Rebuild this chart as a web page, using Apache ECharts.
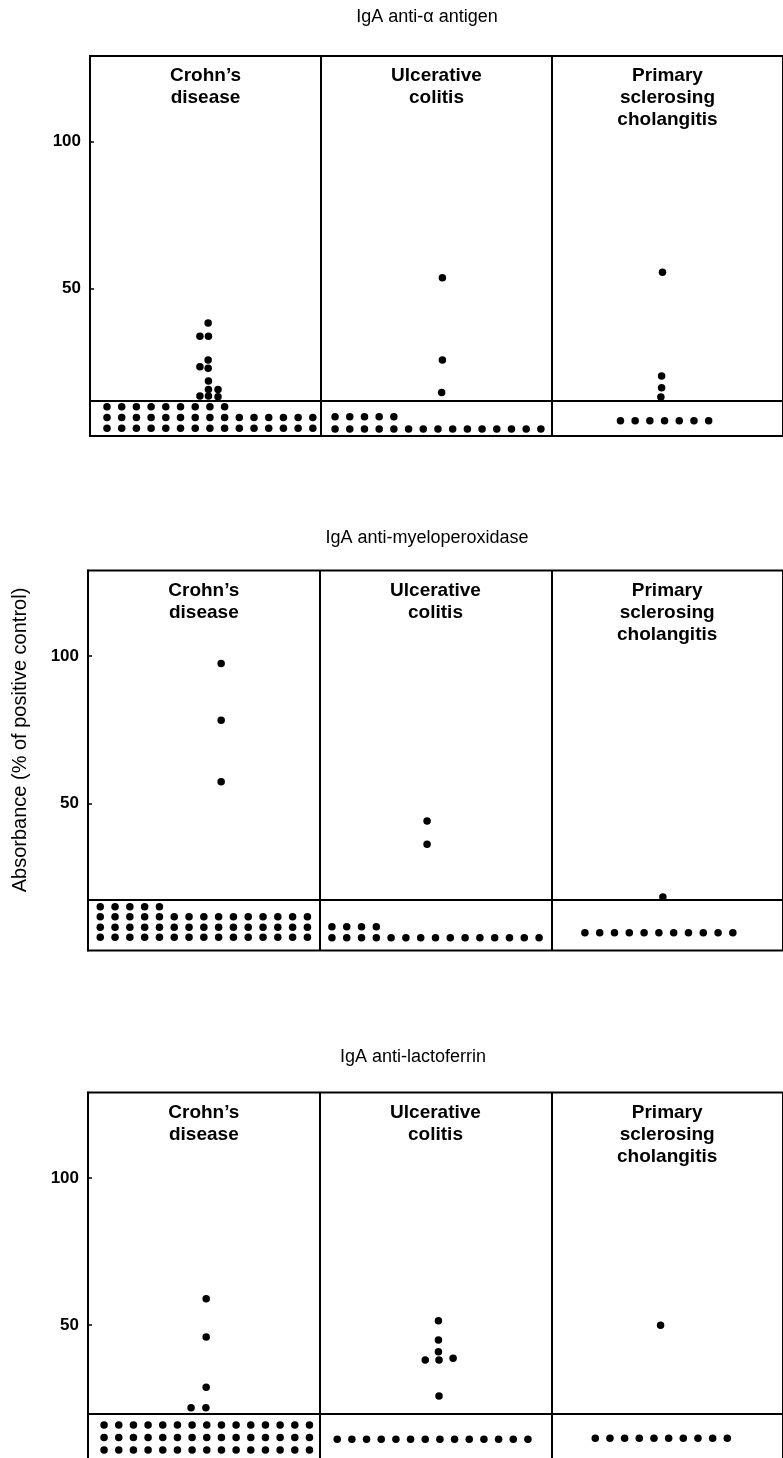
<!DOCTYPE html>
<html>
<head>
<meta charset="utf-8">
<script src="https://cdn.jsdelivr.net/npm/echarts@6/dist/echarts.min.js"></script>
<style>
html,body{margin:0;padding:0;background:#fff;overflow:hidden;width:783px;height:1458px;}
#chart{width:783px;height:1490px;}
</style>
</head>
<body>
<div id="chart"></div>
<script>
// ---------- data ----------
const groups = ['Crohn\u2019s\ndisease', 'Ulcerative\ncolitis', 'Primary\nsclerosing\ncholangitis'];
const panelTitles = ['IgA anti-\u03b1 antigen', 'IgA anti-myeloperoxidase', 'IgA anti-lactoferrin'];
const yAxisTitle = 'Absorbance (% of positive control)';
const yTickValues = [50, 100];
const cutoffs = [12.0, 17.3, 19.9];

// positive sera: [horizontal slot offset from group centre, absorbance %]
const alphaCD  = [[0.18,38.4],[-0.38,33.9],[0.2,33.9],[0.18,25.8],[-0.38,23.5],[0.18,23.0],[0.2,18.7],[0.2,15.8],[0.85,15.8],[-0.38,13.6],[0.2,13.6],[0.85,13.3]];
const alphaUC  = [[0.4,53.7],[0.4,25.8],[0.35,14.8]];
const alphaPSC = [[-0.34,55.6],[-0.4,20.4],[-0.4,16.4],[-0.45,13.2]];

const mpoCD  = [[1.17,97.5],[1.17,78.2],[1.17,57.3]];
const mpoUC  = [[-0.57,44.0],[-0.57,36.1]];
const mpoPSC = [[-0.29,18.2]];

const lfCD  = [[0.16,59.0],[0.16,46.0],[0.16,28.9],[-0.87,22.0],[0.14,22.0]];
const lfUC  = [[0.2,51.5],[0.2,45.0],[0.2,41.0],[-0.7,38.2],[0.24,38.2],[1.2,38.8],[0.24,26.0]];
const lfPSC = [[-0.45,50.0]];

// negative sera, drawn as rows below the cut-off: [row level, first slot, number of sera]
const alphaCDneg  = [[9.9,-6.7,9],[6.3,-6.7,15],[2.6,-6.7,15]];
const alphaUCneg  = [[6.5,-6.9,5],[2.4,-6.9,15]];
const alphaPSCneg = [[5.2,-3.2,7]];

const mpoCDneg  = [[14.9,-7.0,5],[11.5,-7.0,15],[7.9,-7.0,15],[4.5,-7.0,15]];
const mpoUCneg  = [[8.1,-7.0,4],[4.4,-7.0,15]];
const mpoPSCneg = [[6.1,-5.56,11]];

const lfCDneg  = [[16.1,-6.8,15],[11.9,-6.8,15],[7.6,-6.8,15]];
const lfUCneg  = [[11.3,-6.7,14]];
const lfPSCneg = [[11.6,-4.9,10]];

const panelPos = [[alphaCD, alphaUC, alphaPSC], [mpoCD, mpoUC, mpoPSC], [lfCD, lfUC, lfPSC]];
const panelNeg = [[alphaCDneg, alphaUCneg, alphaPSCneg], [mpoCDneg, mpoUCneg, mpoPSCneg], [lfCDneg, lfUCneg, lfPSCneg]];

// ---------- layout ----------
const layout = [
  {left: 90, top: 56,     width: 700,   height: 380, titleX: 422, titleY: 3},
  {left: 88, top: 570.6,  width: 697.5, height: 380, titleX: 422, titleY: 524},
  {left: 88, top: 1092.5, width: 703.5, height: 380, titleX: 408, titleY: 1043}
];
const SLOT_PX = 14.85;
const FONT = '"Liberation Sans", Arial, Helvetica, sans-serif';

const chart = echarts.init(document.getElementById('chart'), null, {renderer: 'canvas'});

const grid = [], xAxis = [], yAxis = [], series = [], title = [];
layout.forEach((L, p) => {
  grid.push({left: L.left, top: L.top, width: L.width, height: L.height, show: true,
             borderColor: '#000', borderWidth: 2, backgroundColor: 'transparent', containLabel: false});
  title.push({text: panelTitles[p], left: L.titleX, top: L.titleY, textAlign: 'center',
              textStyle: {fontFamily: FONT, fontSize: 18, fontWeight: 'normal', color: '#000'}});
  xAxis.push({type: 'value', gridIndex: p, min: 0, max: 3, interval: 1,
              axisLine: {show: false}, axisTick: {show: false}, axisLabel: {show: false},
              splitLine: {show: true, lineStyle: {color: '#000', width: 2}}});
  xAxis.push({type: 'category', gridIndex: p, position: 'top', data: groups, boundaryGap: true,
              axisLine: {show: false}, axisTick: {show: false}, splitLine: {show: false},
              axisLabel: {show: true, inside: true, interval: 0, margin: 9, fontFamily: FONT,
                          fontSize: 19, fontWeight: 'bold', lineHeight: 22, color: '#000', align: 'center'}});
  yAxis.push({type: 'value', gridIndex: p, min: 0, max: 129, interval: 50,
              axisLine: {show: true, lineStyle: {color: '#000', width: 2}},
              axisTick: {show: true, inside: true, length: 4, lineStyle: {color: '#000', width: 1.5},
                         customValues: yTickValues},
              axisLabel: {show: true, margin: 9, fontFamily: FONT, fontSize: 17, fontWeight: 'bold', color: '#000',
                          customValues: yTickValues},
              splitLine: {show: false}});
  const slot = SLOT_PX / (L.width / 3);
  const pos = [], neg = [];
  panelPos[p].forEach((arr, g) => arr.forEach(d => pos.push([g + 0.5 + d[0] * slot, d[1]])));
  panelNeg[p].forEach((rows, g) => rows.forEach(r => {
    for (let i = 0; i < r[2]; i++) neg.push([g + 0.5 + (r[1] + i) * slot, r[0]]);
  }));
  series.push({type: 'scatter', xAxisIndex: 2 * p, yAxisIndex: p, data: pos, symbolSize: 7.5,
               itemStyle: {color: '#000', opacity: 1}, silent: true, z: 5,
               markLine: {silent: true, symbol: ['none', 'none'], label: {show: false},
                          lineStyle: {color: '#000', width: 2, type: 'solid'},
                          data: [{yAxis: cutoffs[p]}]}});
  series.push({type: 'scatter', xAxisIndex: 2 * p, yAxisIndex: p, data: neg, symbolSize: 7.5,
               itemStyle: {color: '#000', opacity: 1}, silent: true, z: 5});
});

chart.setOption({
  animation: false,
  backgroundColor: '#fff',
  title: title,
  grid: grid,
  xAxis: xAxis,
  yAxis: yAxis,
  series: series,
  graphic: [{type: 'text', x: 20, y: 740, rotation: Math.PI / 2,
             style: {text: yAxisTitle, fontFamily: FONT, fontSize: 20, fill: '#000',
                     textAlign: 'center', textVerticalAlign: 'middle'}}]
});
</script>
</body>
</html>
